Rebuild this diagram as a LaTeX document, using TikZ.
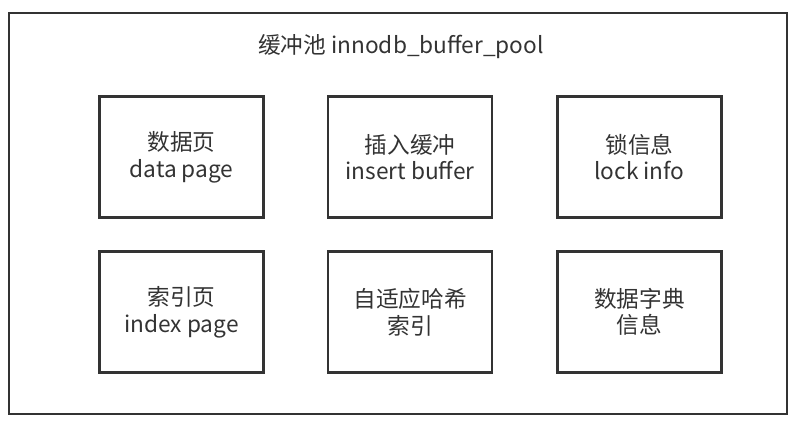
\documentclass[tikz,border=0pt]{standalone}
\usepackage{fontspec}
\setmainfont{Noto Sans CJK SC}
\definecolor{linegray}{HTML}{333333}

\begin{document}
\begin{tikzpicture}[x=0.75pt, y=-0.75pt,
		box/.style = {draw=linegray, line width=2pt, minimum width=123pt, minimum height=91pt, align=center, text=linegray, font=\fontsize{17}{20}\selectfont},
		pool/.style = {draw=linegray, line width=2pt}]
		\useasboundingbox (0,0) rectangle (800,427);
		\draw[pool] (9,13) rectangle (787,414);
		\node[text=linegray, font=\fontsize{17}{20}\selectfont] (title) at (401,47) {缓冲池 innodb\_buffer\_pool};
		\node[box] (datapage) at (181.5,157) {数据页\\data page};
		\node[box] (insertbuf) at (410,157) {插入缓冲\\insert buffer};
		\node[box] (lockinfo) at (639.5,157) {锁信息\\lock info};
		\node[box] (indexpage) at (181.5,312) {索引页\\index page};
		\node[box] (adaptive) at (410,312) {自适应哈希\\索引};
		\node[box] (dict) at (639.5,312) {数据字典\\信息};
	\end{tikzpicture}
\end{document}
